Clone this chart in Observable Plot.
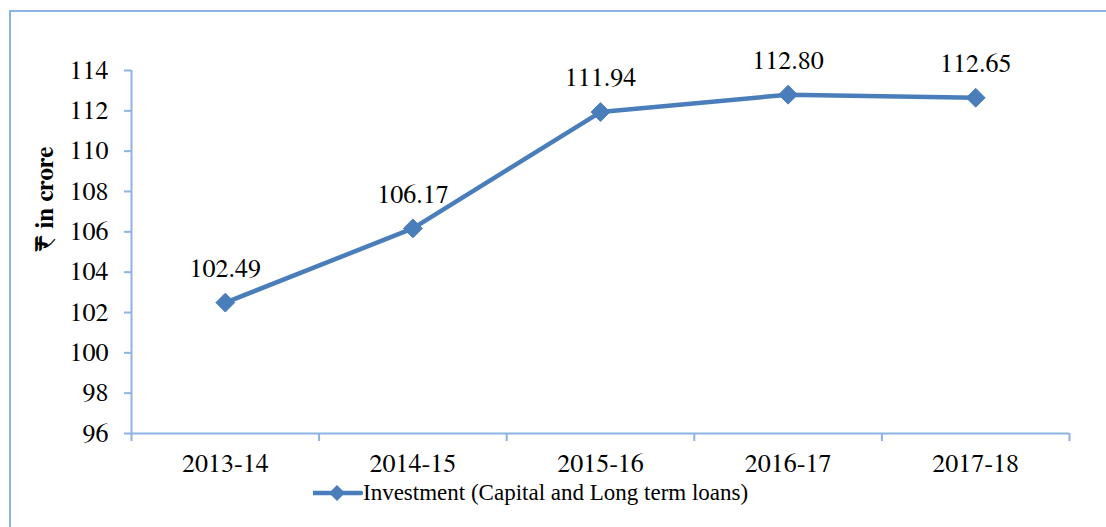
<!DOCTYPE html>
<html>
<head>
<meta charset="utf-8">
<script src="https://cdn.jsdelivr.net/npm/d3@7"></script>
<script src="https://cdn.jsdelivr.net/npm/@observablehq/plot@0.6"></script>
<style>
  html, body { margin: 0; padding: 0; background: #fff; overflow: hidden; width: 1106px; height: 527px; }
  #frame { position: absolute; left: 9px; top: 10px; width: 1200px; height: 600px;
           border-left: 2px solid #8DB3E2; border-top: 2px solid #8DB3E2; }
  #chart { position: absolute; left: 0; top: 0; }
  #legend { position: absolute; left: 313px; top: 478px; height: 30px; display: flex; align-items: center;
            font-family: "Liberation Serif", serif; font-size: 23px; color: #000; white-space: nowrap; }
  #legend svg { display: block; }
</style>
</head>
<body>
<div id="frame"></div>
<div id="chart"></div>
<div id="legend"></div>
<script>
const years = ["2013-14", "2014-15", "2015-16", "2016-17", "2017-18"];
const values = [102.49, 106.17, 111.94, 112.80, 112.65];
const valueLabels = ["102.49", "106.17", "111.94", "112.80", "112.65"];
const yTicks = [96, 98, 100, 102, 104, 106, 108, 110, 112, 114];
const seriesName = "Investment (Capital and Long term loans)";
const yLabel = "₹ in crore";

const lineColor = "#4A7EBB";
const axisColor = "#8DB3E2";
const font = "FreeSerif, Liberation Serif, serif";

const data = years.map((year, i) => ({i, year, value: values[i], label: valueLabels[i]}));
const catIndex = years.map((_, i) => i);
const bounds = [...catIndex.map(i => i - 0.5), years.length - 0.5];

const chart = Plot.plot({
  width: 1106,
  height: 470,
  marginLeft: 131,
  marginRight: 37,
  marginTop: 70,
  marginBottom: 37,
  style: {background: "transparent", overflow: "visible"},
  x: {domain: [-0.5, years.length - 0.5]},
  y: {domain: [96, 114]},
  marks: [
    Plot.axisY({ticks: yTicks, tickSize: 7, tickPadding: 16, stroke: axisColor, strokeWidth: 2, fill: "#000", fontSize: 26, fontFamily: font, label: null}),
    Plot.axisX({ticks: bounds, tickSize: 8, tickFormat: () => "", stroke: axisColor, strokeWidth: 2, label: null}),
    Plot.axisX({ticks: catIndex, tickSize: 0, tickPadding: 20, tickFormat: i => years[i], fill: "#000", fontSize: 26, fontFamily: font, label: null}),
    Plot.ruleX([-0.5], {stroke: axisColor, strokeWidth: 2}),
    Plot.ruleY([96], {stroke: axisColor, strokeWidth: 2}),
    Plot.text([yLabel], {frameAnchor: "left", dx: -87, rotate: -90, fontWeight: "bold", fontSize: 25, fontFamily: font, fill: "#000"}),
    Plot.line(data, {x: "i", y: "value", stroke: lineColor, strokeWidth: 4.5, strokeLinejoin: "round"}),
    Plot.dot(data, {x: "i", y: "value", symbol: "diamond2", r: 8.5, fill: lineColor, stroke: lineColor, strokeWidth: 1}),
    Plot.text(data, {x: "i", y: "value", text: "label", dy: -34, fontSize: 26, fontFamily: font, fill: "#000"})
  ]
});
document.getElementById("chart").appendChild(chart);

const legend = document.getElementById("legend");
const sw = d3.create("svg").attr("width", 50).attr("height", 30);
sw.append("line").attr("x1", 0).attr("x2", 48).attr("y1", 15).attr("y2", 15)
  .attr("stroke", lineColor).attr("stroke-width", 4.5).attr("stroke-linecap", "round");
sw.append("path").attr("d", "M24,7 L32,15 L24,23 L16,15 Z").attr("fill", lineColor);
legend.appendChild(sw.node());
const span = document.createElement("span");
span.textContent = seriesName;
legend.appendChild(span);
</script>
</body>
</html>
